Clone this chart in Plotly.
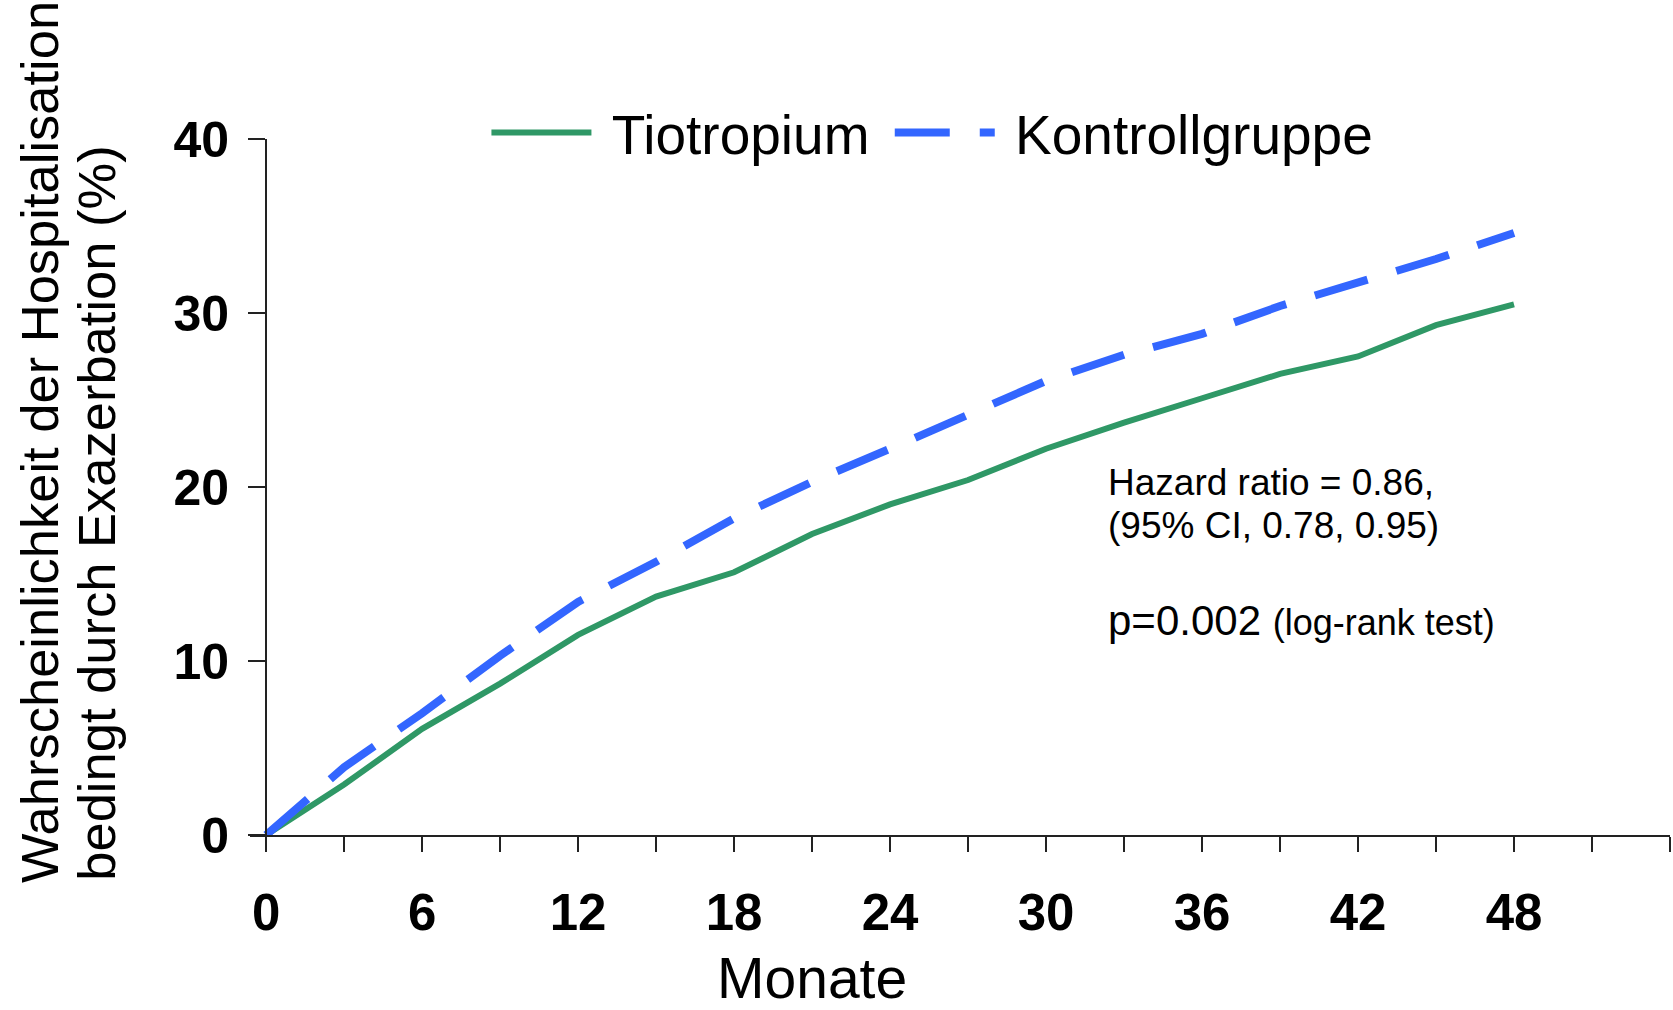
import plotly.graph_objects as go

months = [0, 3, 6, 9, 12, 15, 18, 21, 24, 27, 30, 33, 36, 39, 42, 45, 48]
tiotropium = [0, 2.9, 6.1, 8.7, 11.5, 13.7, 15.1, 17.3, 19.0, 20.4, 22.2, 23.7, 25.1, 26.5, 27.5, 29.3, 30.5]
kontrolle = [0, 3.9, 7.0, 10.3, 13.4, 15.7, 18.2, 20.3, 22.2, 24.1, 26.1, 27.6, 28.8, 30.4, 31.7, 33.1, 34.6]

x_tickvals = list(range(0, 55, 3))
x_ticktext = [str(v) if v % 6 == 0 and v <= 48 else "" for v in x_tickvals]
y_tickvals = [0, 10, 20, 30, 40]

GREEN = "#2F9866"
BLUE = "#3366FF"

fig = go.Figure()
fig.add_trace(go.Scatter(x=months, y=tiotropium, mode="lines", name="\u00a0Tiotropium\u00a0",
                         line=dict(color=GREEN, width=6)))
fig.add_trace(go.Scatter(x=months, y=kontrolle, mode="lines", name="\u00a0Kontrollgruppe",
                         line=dict(color=BLUE, width=8, dash="55px,30px")))

fig.update_layout(
    width=1673, height=1010,
    margin=dict(l=250, r=3, t=139, b=174.5),
    paper_bgcolor="white", plot_bgcolor="white",
    font=dict(family="Liberation Sans, Arial, sans-serif", color="black"),
    showlegend=True,
    legend=dict(orientation="h", x=0.1665, xanchor="left", y=1.009, yanchor="middle",
                font=dict(size=55, family="Liberation Sans, Arial, sans-serif"),
                bgcolor="rgba(0,0,0,0)", itemwidth=100, tracegroupgap=0),
    xaxis=dict(range=[-0.62, 54], tickvals=x_tickvals, ticktext=x_ticktext,
               showgrid=False, zeroline=False, showline=True, linecolor="#222", linewidth=2,
               ticks="outside", ticklen=15, tickwidth=2, tickcolor="#222",
               ticklabelstandoff=17,
               tickfont=dict(size=51, family="Liberation Sans Narrow, Arial Narrow, Liberation Sans", weight="bold")),
    yaxis=dict(range=[0, 40], tickvals=y_tickvals, anchor="free", position=0.62/54.62,
               showgrid=False, zeroline=False, showline=True, linecolor="#222", linewidth=2,
               ticks="outside", ticklen=17, tickwidth=2, tickcolor="#222",
               ticklabelstandoff=9,
               tickfont=dict(size=50, family="Liberation Sans, Arial", weight="bold")),
)

fig.add_annotation(text="Wahrscheinlichkeit der Hospitalisation",
                   xref="paper", yref="paper", x=-0.1482, y=-0.0725, xanchor="center", yanchor="bottom",
                   textangle=-90, showarrow=False,
                   font=dict(size=52.5, family="Liberation Sans, Arial"))
fig.add_annotation(text="bedingt durch Exazerbation (%)",
                   xref="paper", yref="paper", x=-0.1083, y=-0.069, xanchor="center", yanchor="bottom",
                   textangle=-90, showarrow=False,
                   font=dict(size=52.5, family="Liberation Sans, Arial"))
fig.add_annotation(text="Monate", xref="x", yref="paper", x=21, y=-0.205, yanchor="middle",
                   showarrow=False, font=dict(size=57, family="Liberation Sans, Arial"))
fig.add_annotation(text="Hazard ratio = 0.86,", xref="x", yref="y", x=32.3, y=20.24,
                   xanchor="left", yanchor="middle", showarrow=False, font=dict(size=37))
fig.add_annotation(text="(95% CI, 0.78, 0.95)", xref="x", yref="y", x=32.3, y=17.77,
                   xanchor="left", yanchor="middle", showarrow=False, font=dict(size=37))
fig.add_annotation(text="p=0.002 <span style='font-size:36px'>(log-rank test)</span>", xref="x", yref="y",
                   x=32.3, y=12.31, xanchor="left", yanchor="middle", showarrow=False,
                   font=dict(size=42))

fig.write_html("out.html")
